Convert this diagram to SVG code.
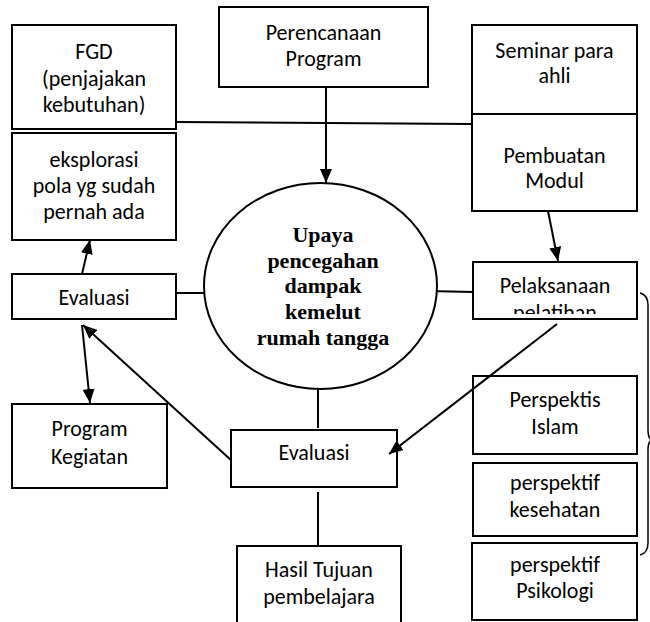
<svg xmlns="http://www.w3.org/2000/svg" width="650" height="622" viewBox="0 0 650 622">
<style>
.box{fill:#fff;stroke:#000;stroke-width:2}
.t{font-family:Carlito,Lato,"Liberation Sans",sans-serif;font-size:22px;fill:#000;text-anchor:middle}
.c{font-family:"Liberation Serif","Times New Roman",serif;font-size:22px;font-weight:bold;fill:#000;text-anchor:middle}
.ln{fill:none;stroke:#000;stroke-width:2}
</style>
<defs>
<marker id="ah" markerUnits="userSpaceOnUse" markerWidth="14" markerHeight="12" refX="14" refY="6" orient="auto">
<path d="M0,0 L14,6 L0,12 z" fill="#000"/>
</marker>
<clipPath id="pclip"><rect x="473" y="262" width="164" height="52"/></clipPath>
</defs>
<rect width="650" height="622" fill="#fff"/>

<g id="connectors">
<line class="ln" x1="176" y1="122" x2="472" y2="124"/>
<line class="ln" x1="326" y1="87" x2="326" y2="183" marker-end="url(#ah)"/>
<line class="ln" x1="548" y1="211" x2="558" y2="261" marker-end="url(#ah)"/>
<line class="ln" x1="176" y1="293" x2="205" y2="293"/>
<line class="ln" x1="428" y1="291" x2="473" y2="292"/>
<line class="ln" x1="82" y1="274" x2="90" y2="240" marker-end="url(#ah)"/>
<line class="ln" x1="82" y1="325" x2="90" y2="403" marker-end="url(#ah)"/>
<line class="ln" x1="232" y1="461" x2="83" y2="325" marker-end="url(#ah)"/>
<line class="ln" x1="318" y1="389" x2="318" y2="428"/>
<line class="ln" x1="318" y1="492" x2="318" y2="546"/>
</g>

<g id="fgd"><rect class="box" x="12" y="25" width="164" height="104"/>
<text class="t" x="94" y="59">FGD</text><text class="t" x="94" y="86">(penjajakan</text><text class="t" x="94" y="112">kebutuhan)</text></g>

<g id="eksplorasi"><rect class="box" x="12" y="133" width="164" height="107"/>
<text class="t" x="94" y="167">eksplorasi</text><text class="t" x="94" y="193">pola yg sudah</text><text class="t" x="94" y="219">pernah ada</text></g>

<g id="perencanaan"><rect class="box" x="219" y="7" width="209" height="80"/>
<text class="t" x="323.5" y="40">Perencanaan</text><text class="t" x="323.5" y="66">Program</text></g>

<g id="seminar"><rect class="box" x="472" y="25" width="165" height="89"/>
<text class="t" x="554.5" y="58">Seminar para</text><text class="t" x="554.5" y="83">ahli</text></g>

<g id="pembuatan"><rect class="box" x="472" y="114" width="165" height="97"/>
<text class="t" x="554.5" y="163">Pembuatan</text><text class="t" x="554.5" y="188">Modul</text></g>

<g id="upaya"><ellipse cx="320.5" cy="286" rx="116.5" ry="103" fill="#fff" stroke="#000" stroke-width="2"/>
<text class="c" x="323" y="242">Upaya</text><text class="c" x="323" y="267.5">pencegahan</text><text class="c" x="323" y="293">dampak</text><text class="c" x="323" y="319">kemelut</text><text class="c" x="323" y="345">rumah tangga</text></g>

<g id="evaluasi-kiri"><rect class="box" x="12" y="274" width="164" height="45"/>
<text class="t" x="94" y="305">Evaluasi</text></g>

<g id="pelaksanaan"><rect class="box" x="473" y="262" width="164" height="57"/>
<g clip-path="url(#pclip)"><text class="t" x="555" y="293">Pelaksanaan</text><text class="t" x="555" y="320">pelatihan</text></g></g>

<g id="program-kegiatan"><rect class="box" x="12" y="404" width="155" height="84"/>
<text class="t" x="89.5" y="436">Program</text><text class="t" x="89.5" y="464">Kegiatan</text></g>

<g id="perspektis-islam"><rect class="box" x="473" y="376" width="164" height="78"/>
<text class="t" x="555" y="407">Perspektis</text><text class="t" x="555" y="434">Islam</text></g>

<g id="perspektif-kesehatan"><rect class="box" x="473" y="463" width="164" height="73"/>
<text class="t" x="555" y="490">perspektif</text><text class="t" x="555" y="517">kesehatan</text></g>

<g id="perspektif-psikologi"><rect class="box" x="472" y="543" width="165" height="77"/>
<text class="t" x="555" y="572">perspektif</text><text class="t" x="555" y="598">Psikologi</text></g>

<g id="evaluasi-tengah"><rect class="box" x="231" y="430" width="166" height="57"/>
<text class="t" x="314" y="460">Evaluasi</text></g>

<g id="hasil"><rect class="box" x="237" y="546" width="164" height="90"/>
<text class="t" x="319" y="577">Hasil Tujuan</text><text class="t" x="319" y="604">pembelajara</text></g>

<g id="connectors-over">
<line class="ln" x1="557" y1="324" x2="389" y2="454" marker-end="url(#ah)"/>
<path d="M640,293 Q648,295 648,305 L648,430 Q648,440 653,440 Q648,440 648,450 L648,543 Q648,553 640,555" fill="none" stroke="#000" stroke-width="1.5"/>
</g>
</svg>
